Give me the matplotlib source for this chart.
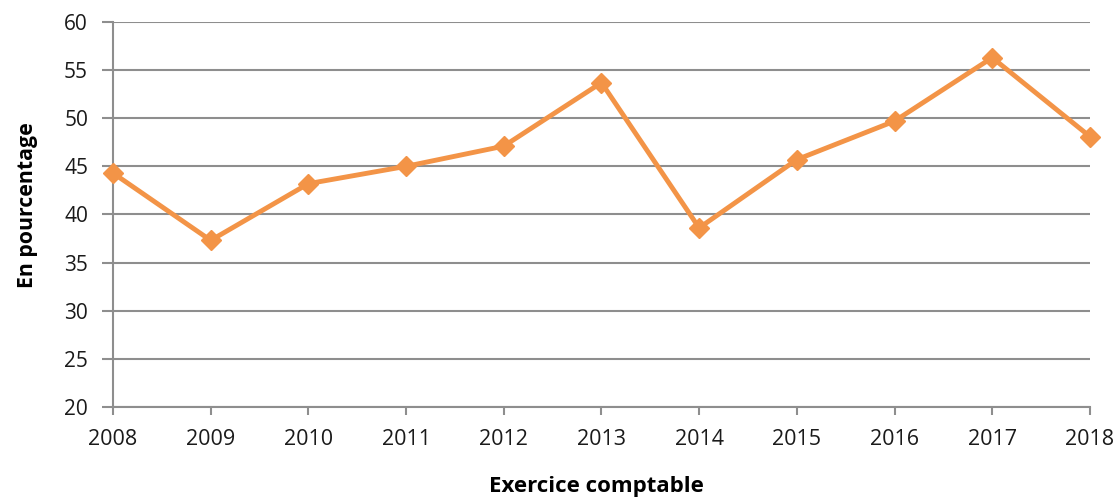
import matplotlib
matplotlib.use('Agg')
import matplotlib.pyplot as plt

years = [2008, 2009, 2010, 2011, 2012, 2013, 2014, 2015, 2016, 2017, 2018]
values = [44.3, 37.3, 43.2, 45.0, 47.1, 53.7, 38.6, 45.7, 49.7, 56.3, 48.1]
yticks = [20, 25, 30, 35, 40, 45, 50, 55, 60]

plt.rcParams['font.family'] = ['Open Sans', 'DejaVu Sans']

fig = plt.figure(figsize=(11.19, 5.01), dpi=100)
ax = fig.add_axes([0.101, 0.188, 0.873, 0.768])

grid_col = '#8e8e8e'
ax.set_yticks(yticks)
ax.set_ylim(20, 60)
ax.set_xlim(years[0], years[-1])
ax.set_xticks(years)
ax.grid(axis='y', color=grid_col, linewidth=1.5)
ax.set_axisbelow(True)

ax.plot(years, values, color='#f39447', linewidth=3.5,
        marker='D', markersize=10, markerfacecolor='#f39447',
        markeredgecolor='#f39447', clip_on=False, zorder=3)

for s in ['top', 'right']:
    ax.spines[s].set_visible(False)
for s in ['left', 'bottom']:
    ax.spines[s].set_color(grid_col)
    ax.spines[s].set_linewidth(1.5)

ax.tick_params(axis='y', length=8, width=1.5, color=grid_col, labelsize=15, pad=10,
               labelcolor='#1a1a1a')
ax.tick_params(axis='x', length=6, width=1.5, color=grid_col, labelsize=15.5, pad=10,
               labelcolor='#1a1a1a')

ax.set_ylabel('En pourcentage', fontsize=15.3, fontweight='bold', labelpad=19, y=0.525)
ax.set_xlabel('Exercice comptable', fontsize=16, fontweight='bold', labelpad=19, x=0.495)

fig.savefig('out.png', dpi=100)
